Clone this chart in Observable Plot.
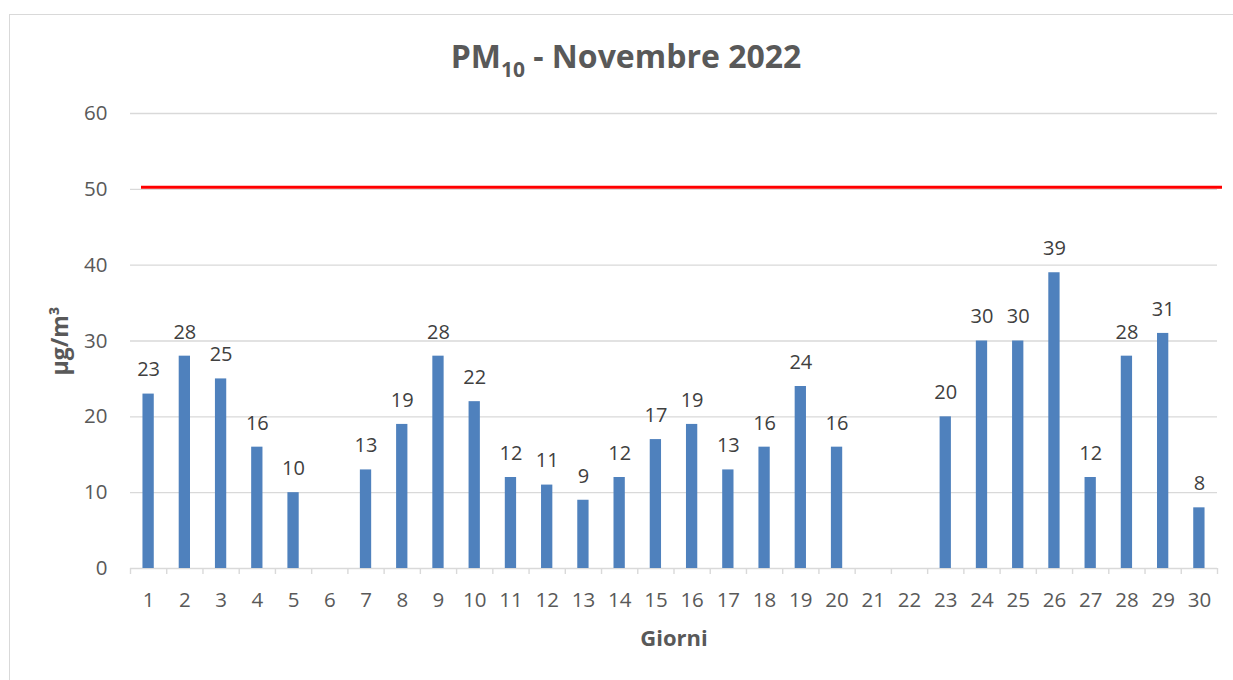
<!DOCTYPE html>
<html>
<head>
<meta charset="utf-8">
<script src="https://cdn.jsdelivr.net/npm/d3@7"></script>
<script src="https://cdn.jsdelivr.net/npm/@observablehq/plot@0.6"></script>
<style>
  html, body { margin: 0; padding: 0; background: #fff; }
  #wrap { position: relative; width: 1233px; height: 680px; overflow: hidden; font-family: "Open Sans", sans-serif; }
  #border { position: absolute; left: 9px; top: 14px; width: 1260px; height: 720px; border: 1.5px solid #D9D9D9; box-sizing: border-box; }
  #title { position: absolute; left: 9px; width: 1234px; top: 36px; text-align: center; font-size: 32px; font-weight: 700; color: #595959; line-height: 40px; }
  #title sub { font-size: 21px; line-height: 0; vertical-align: -9px; }
  #chart { position: absolute; left: 0; top: 0; }
</style>
</head>
<body>
<div id="wrap">
  <div id="border"></div>
  <div id="chart"></div>
  <div id="title">PM<sub>10</sub> - Novembre 2022</div>
</div>
<script>
const days = [1,2,3,4,5,6,7,8,9,10,11,12,13,14,15,16,17,18,19,20,21,22,23,24,25,26,27,28,29,30];
const pm10 = [23,28,25,16,10,null,13,19,28,22,12,11,9,12,17,19,13,16,24,16,null,null,20,30,30,39,12,28,31,8];
const yTicks = [0,10,20,30,40,50,60];
const limit = [50];
const yLabel = "µg/m³";
const xLabel = "Giorni";

const data = days.map((d, i) => ({day: d, value: pm10[i]})).filter(d => d.value != null);

const W = 1233, H = 680, ML = 130, MR = 16, MT = 113, MB = 112;
const step = (W - ML - MR) / days.length;
const barW = 11.3;
const inset = (step - barW) / 2;
const grid = "#D9D9D9";
const font = "Open Sans, sans-serif";

const chart = Plot.plot({
  width: W,
  height: H,
  marginLeft: ML,
  marginRight: MR,
  marginTop: MT,
  marginBottom: MB,
  style: {fontFamily: font, background: "transparent", overflow: "visible"},
  x: {domain: days, padding: 0, round: false, axis: null},
  y: {domain: [0, 60], axis: null},
  marks: [
    Plot.ruleY(yTicks, {y: d => d, stroke: grid, strokeWidth: 1.4}),
    Plot.ruleX(days, {x: d => d, y1: 0, y2: 0, insetBottom: -6, dx: -step / 2, stroke: grid, strokeWidth: 1.4}),
    Plot.ruleX([days[days.length - 1]], {x: d => d, y1: 0, y2: 0, insetBottom: -6, dx: step / 2, stroke: grid, strokeWidth: 1.4}),
    Plot.barY(data, {x: "day", y: "value", fill: "#4F81BD", insetLeft: inset, insetRight: inset}),
    Plot.ruleY(limit, {y: d => d, stroke: "#FF0000", strokeWidth: 3, insetLeft: 11, insetRight: -5, dy: -2}),
    Plot.text(data, {x: "day", y: "value", text: d => String(d.value), dy: -24, lineAnchor: "middle", fontSize: 20, fill: "#404040"}),
    Plot.axisY(yTicks, {tickSize: 0, tickPadding: 23, fontSize: 20.5, color: "#595959", label: null}),
    Plot.axisX(days, {tickSize: 0, tickPadding: 24, fontSize: 20.5, color: "#595959", label: null}),
    Plot.text([yLabel], {text: d => d, frameAnchor: "left", rotate: -90, dx: -70, textAnchor: "middle", lineAnchor: "middle", fontSize: 23, fontWeight: "bold", fill: "#595959"}),
    Plot.text([xLabel], {text: d => d, frameAnchor: "bottom", dy: 70, textAnchor: "middle", lineAnchor: "middle", fontSize: 22, fontWeight: "bold", fill: "#595959"})
  ]
});
document.getElementById("chart").appendChild(chart);
</script>
</body>
</html>
